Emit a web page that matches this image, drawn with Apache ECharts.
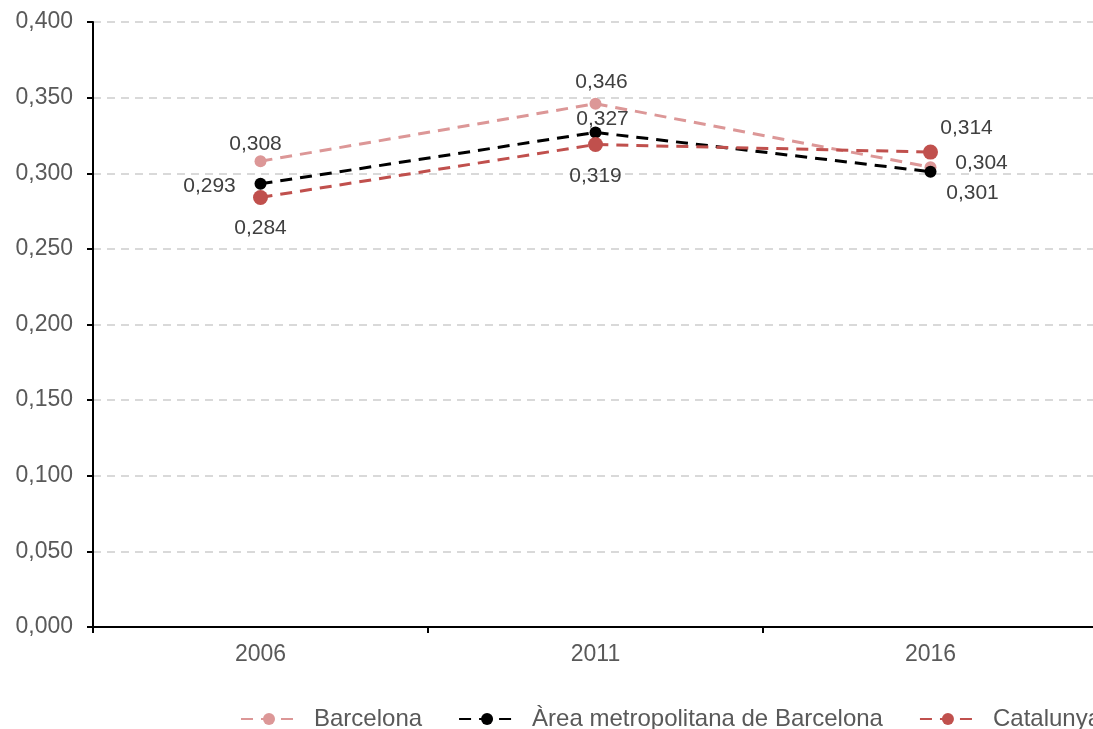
<!DOCTYPE html>
<html>
<head>
<meta charset="utf-8">
<script src="https://cdn.jsdelivr.net/npm/echarts@6/dist/echarts.min.js"></script>
<style>
  html, body { margin: 0; padding: 0; background: #fff; overflow: hidden; }
  #chart { width: 1300px; height: 729px; }
</style>
</head>
<body>
<div id="chart"></div>
<script>
var years = ["2006", "2011", "2016"];
var barcelona = [0.308, 0.346, 0.304];
var areaMetro = [0.293, 0.327, 0.301];
var catalunya = [0.284, 0.319, 0.314];

// label offsets (label centre relative to the point), so they don't overlap
var barcelonaOffsets = [[-5, -17], [6, -21], [51, -4]];
var areaOffsets = [[-51, 2], [7, -13], [42, 21]];
var catalunyaOffsets = [[0, 31], [0, 32], [36, -24]];

function fmt(v) {
  return v.toFixed(3).replace(".", ",");
}

function withLabels(values, offsets) {
  return values.map(function (v, i) {
    return { value: v, label: { position: "inside", offset: offsets[i] } };
  });
}

function lineSeries(name, values, offsets, color, size) {
  return {
    name: name,
    type: "line",
    data: withLabels(values, offsets),
    symbol: "circle",
    symbolSize: size,
    itemStyle: { color: color },
    lineStyle: { color: color, width: 3, type: [12, 8] },
    label: {
      show: true,
      color: "#404040",
      fontSize: 21,
      fontFamily: "Liberation Sans, Arial",
      formatter: function (p) { return fmt(p.value); }
    },
    emphasis: { disabled: true },
    animation: false
  };
}

var chart = echarts.init(document.getElementById("chart"));
chart.setOption({
  textStyle: { fontFamily: "Liberation Sans, Arial" },
  // the plot runs past the right edge of the window, as in the original
  grid: { left: 93, right: 202, top: 22, bottom: 102 },
  xAxis: {
    type: "category",
    data: years,
    boundaryGap: true,
    axisLine: { lineStyle: { color: "#000", width: 2 } },
    axisTick: { show: true, length: 6, lineStyle: { color: "#000", width: 2 } },
    axisLabel: { color: "#595959", fontSize: 23, margin: 16 }
  },
  yAxis: {
    type: "value",
    min: 0,
    max: 0.4,
    interval: 0.05,
    axisLine: { show: true, lineStyle: { color: "#000", width: 2 } },
    axisTick: { show: true, length: 6, lineStyle: { color: "#000", width: 2 } },
    axisLabel: { color: "#595959", fontSize: 23, margin: 20, formatter: fmt },
    splitLine: { lineStyle: { color: "#d9d9d9", width: 2, type: [8, 6] } }
  },
  legend: {
    left: 235,
    top: 702,
    itemWidth: 56,
    itemHeight: 15,
    itemGap: 36,
    textStyle: { color: "#595959", fontSize: 24, padding: [0, 0, 0, 12] },
    data: ["Barcelona", "Àrea metropolitana de Barcelona", "Catalunya"]
  },
  series: [
    lineSeries("Barcelona", barcelona, barcelonaOffsets, "#dc9797", 12),
    lineSeries("Àrea metropolitana de Barcelona", areaMetro, areaOffsets, "#000000", 12),
    lineSeries("Catalunya", catalunya, catalunyaOffsets, "#c0504d", 15)
  ]
});
</script>
</body>
</html>
